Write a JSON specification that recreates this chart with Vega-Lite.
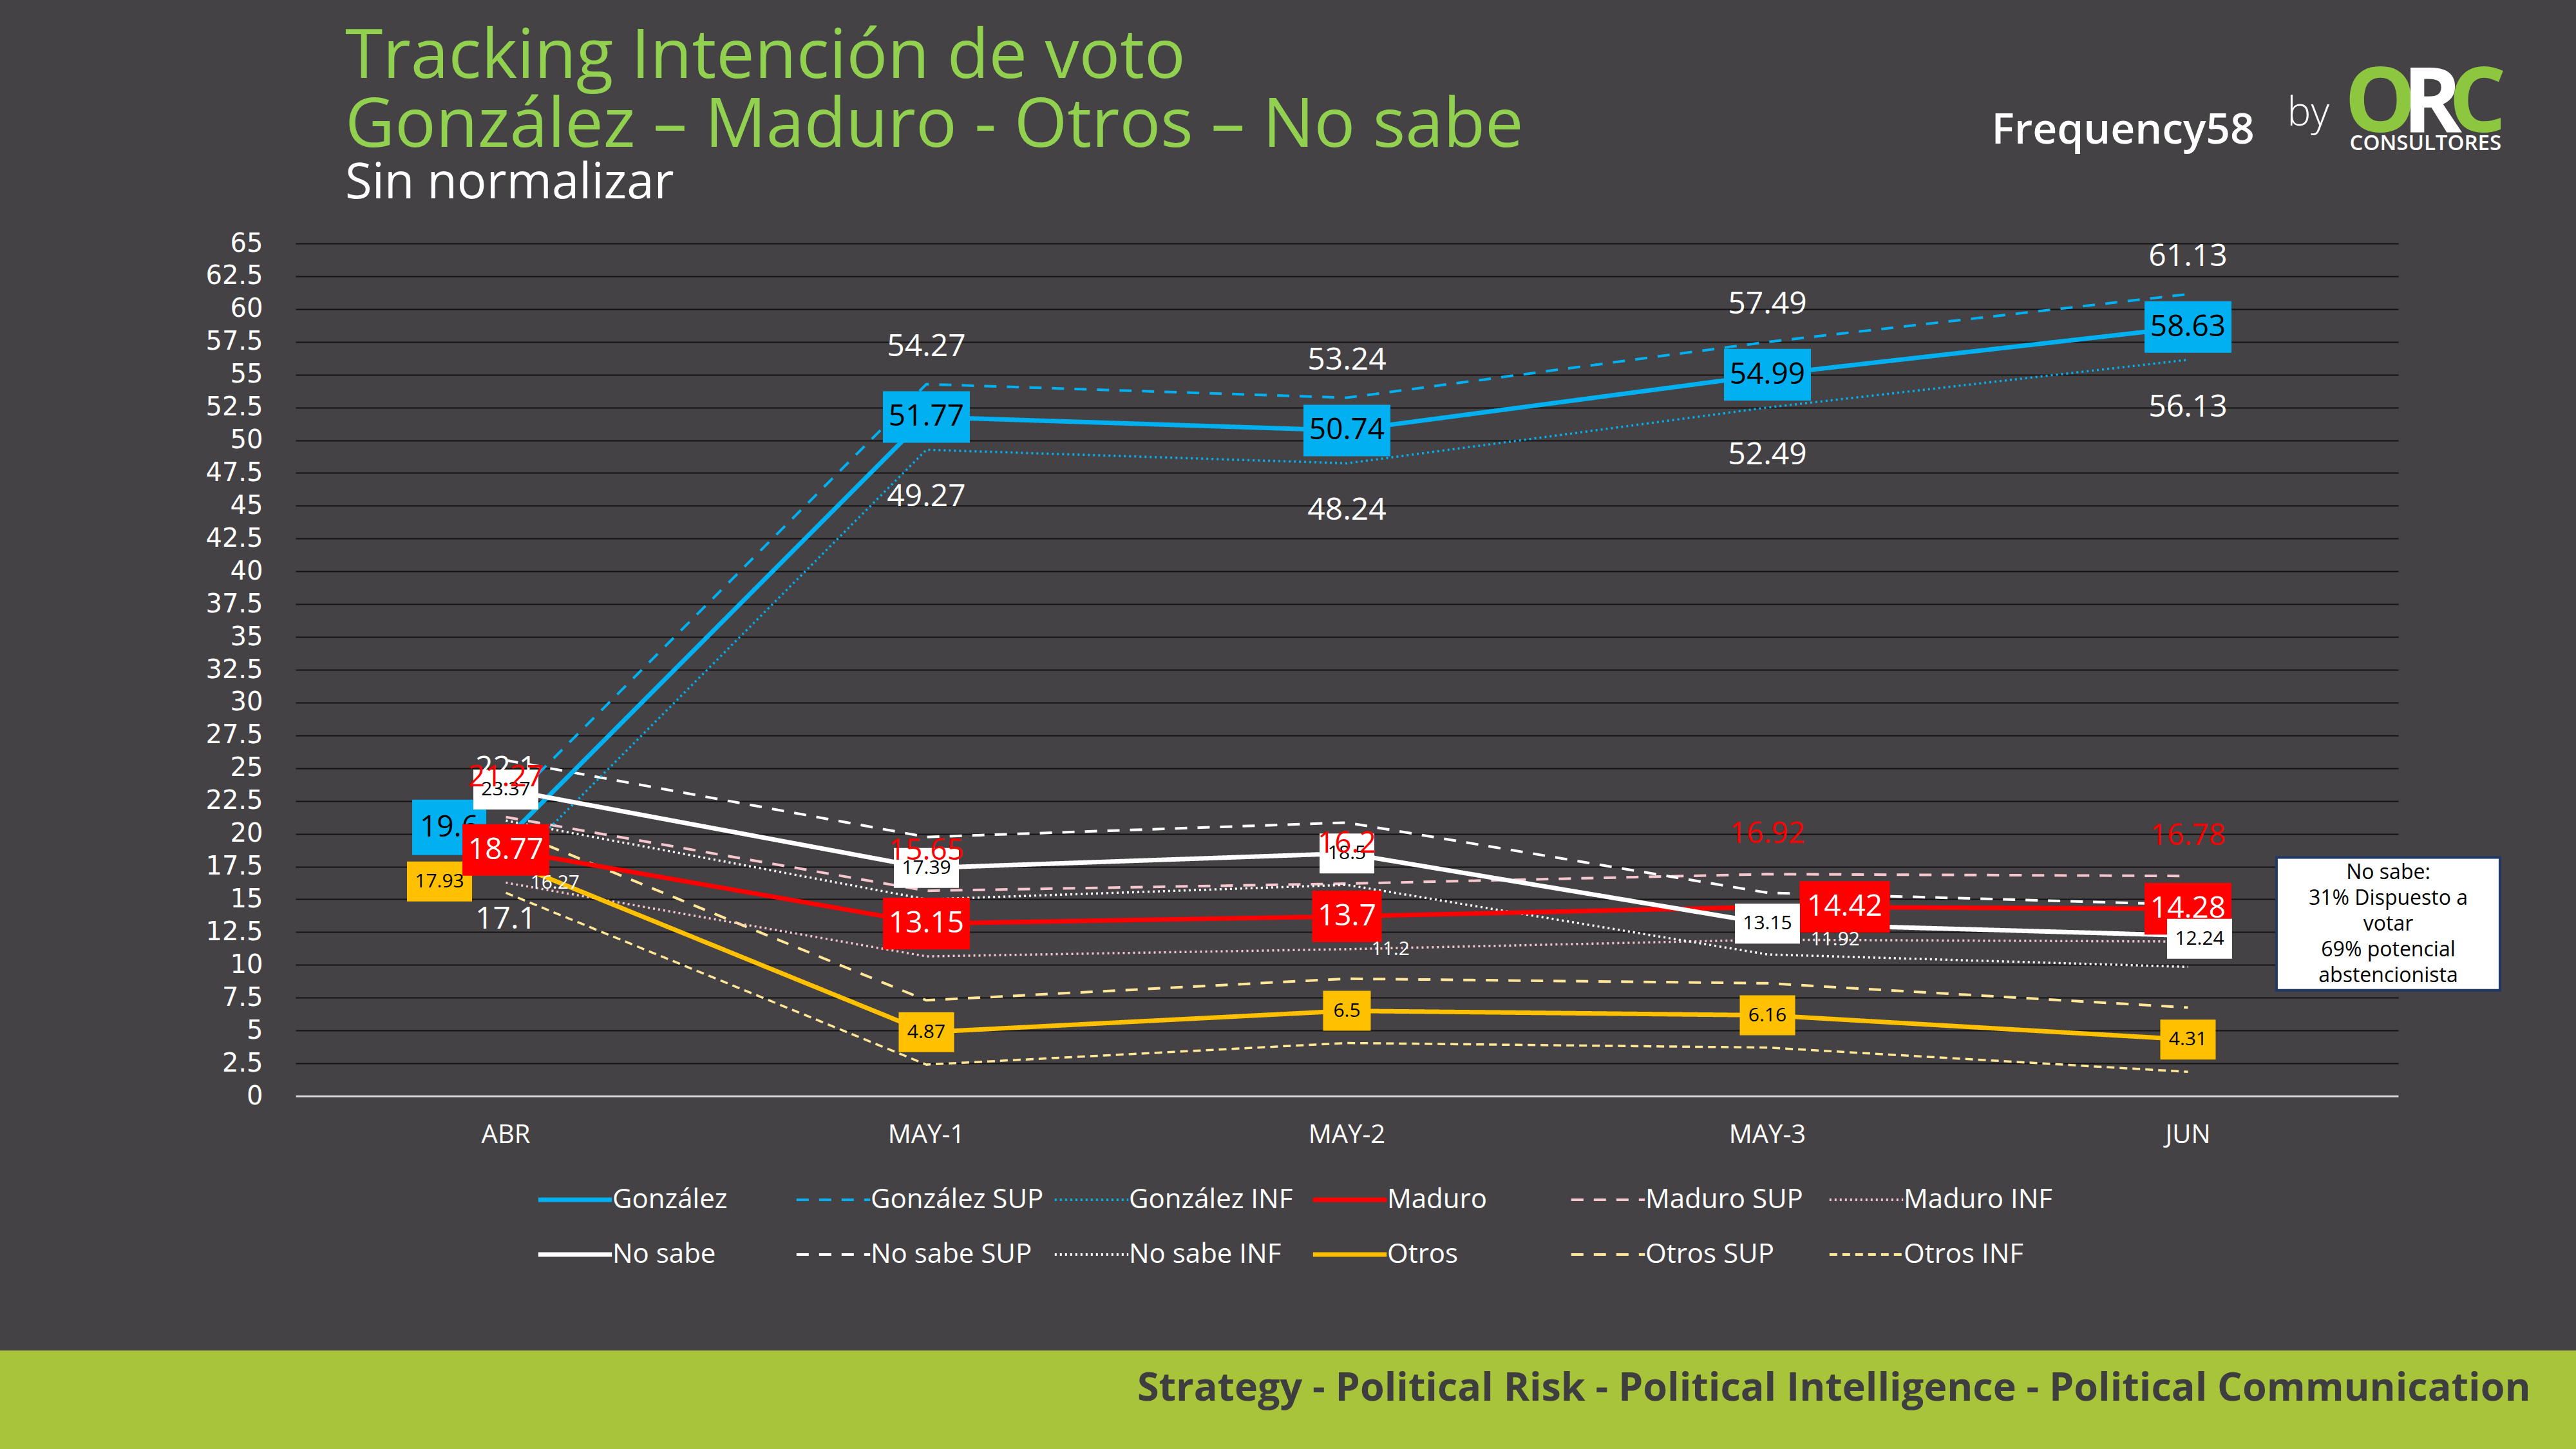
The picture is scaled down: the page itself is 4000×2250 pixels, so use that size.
{
  "$schema": "https://vega.github.io/schema/vega-lite/v6.json",
  "width": 4000,
  "height": 2250,
  "autosize": {"type": "none"},
  "padding": 0,
  "background": "#444244",
  "title": {
    "text": ["Tracking Intención de voto", "González – Maduro - Otros – No sabe"],
    "subtitle": "Sin normalizar",
    "anchor": "start",
    "frame": "group",
    "orient": "top",
    "dx": 536,
    "offset": -324,
    "baseline": "top",
    "font": "Open Sans",
    "fontSize": 106,
    "fontWeight": "normal",
    "lineHeight": 107,
    "color": "#92D050",
    "subtitleFont": "Open Sans",
    "subtitleFontSize": 76,
    "subtitleColor": "#FFFFFF",
    "subtitlePadding": -2
  },
  "config": {
    "view": {
      "stroke": null,
      "fill": {
        "gradient": "linear",
        "x1": 0, "y1": 0, "x2": 0, "y2": 1,
        "stops": [
          {"offset": 0, "color": "#444244"},
          {"offset": 0.932, "color": "#444244"},
          {"offset": 0.932, "color": "#A8C43A"},
          {"offset": 1, "color": "#A8C43A"}
        ]
      }
    }
  },
  "data": {
    "values": [
      {"mes": "ABR", "serie": "González", "valor": 19.6},
      {"mes": "MAY-1", "serie": "González", "valor": 51.77},
      {"mes": "MAY-2", "serie": "González", "valor": 50.74},
      {"mes": "MAY-3", "serie": "González", "valor": 54.99},
      {"mes": "JUN", "serie": "González", "valor": 58.63},
      {"mes": "ABR", "serie": "González SUP", "valor": 22.1},
      {"mes": "MAY-1", "serie": "González SUP", "valor": 54.27},
      {"mes": "MAY-2", "serie": "González SUP", "valor": 53.24},
      {"mes": "MAY-3", "serie": "González SUP", "valor": 57.49},
      {"mes": "JUN", "serie": "González SUP", "valor": 61.13},
      {"mes": "ABR", "serie": "González INF", "valor": 17.1},
      {"mes": "MAY-1", "serie": "González INF", "valor": 49.27},
      {"mes": "MAY-2", "serie": "González INF", "valor": 48.24},
      {"mes": "MAY-3", "serie": "González INF", "valor": 52.49},
      {"mes": "JUN", "serie": "González INF", "valor": 56.13},
      {"mes": "ABR", "serie": "Maduro", "valor": 18.77},
      {"mes": "MAY-1", "serie": "Maduro", "valor": 13.15},
      {"mes": "MAY-2", "serie": "Maduro", "valor": 13.7},
      {"mes": "MAY-3", "serie": "Maduro", "valor": 14.42},
      {"mes": "JUN", "serie": "Maduro", "valor": 14.28},
      {"mes": "ABR", "serie": "Maduro SUP", "valor": 21.27},
      {"mes": "MAY-1", "serie": "Maduro SUP", "valor": 15.65},
      {"mes": "MAY-2", "serie": "Maduro SUP", "valor": 16.2},
      {"mes": "MAY-3", "serie": "Maduro SUP", "valor": 16.92},
      {"mes": "JUN", "serie": "Maduro SUP", "valor": 16.78},
      {"mes": "ABR", "serie": "Maduro INF", "valor": 16.27},
      {"mes": "MAY-1", "serie": "Maduro INF", "valor": 10.65},
      {"mes": "MAY-2", "serie": "Maduro INF", "valor": 11.2},
      {"mes": "MAY-3", "serie": "Maduro INF", "valor": 11.92},
      {"mes": "JUN", "serie": "Maduro INF", "valor": 11.78},
      {"mes": "ABR", "serie": "No sabe", "valor": 23.37},
      {"mes": "MAY-1", "serie": "No sabe", "valor": 17.39},
      {"mes": "MAY-2", "serie": "No sabe", "valor": 18.5},
      {"mes": "MAY-3", "serie": "No sabe", "valor": 13.15},
      {"mes": "JUN", "serie": "No sabe", "valor": 12.24},
      {"mes": "ABR", "serie": "No sabe SUP", "valor": 25.6},
      {"mes": "MAY-1", "serie": "No sabe SUP", "valor": 19.75},
      {"mes": "MAY-2", "serie": "No sabe SUP", "valor": 20.85},
      {"mes": "MAY-3", "serie": "No sabe SUP", "valor": 15.5},
      {"mes": "JUN", "serie": "No sabe SUP", "valor": 14.6},
      {"mes": "ABR", "serie": "No sabe INF", "valor": 21.0},
      {"mes": "MAY-1", "serie": "No sabe INF", "valor": 15.0},
      {"mes": "MAY-2", "serie": "No sabe INF", "valor": 16.1},
      {"mes": "MAY-3", "serie": "No sabe INF", "valor": 10.8},
      {"mes": "JUN", "serie": "No sabe INF", "valor": 9.85},
      {"mes": "ABR", "serie": "Otros", "valor": 17.93},
      {"mes": "MAY-1", "serie": "Otros", "valor": 4.87},
      {"mes": "MAY-2", "serie": "Otros", "valor": 6.5},
      {"mes": "MAY-3", "serie": "Otros", "valor": 6.16},
      {"mes": "JUN", "serie": "Otros", "valor": 4.31},
      {"mes": "ABR", "serie": "Otros SUP", "valor": 20.4},
      {"mes": "MAY-1", "serie": "Otros SUP", "valor": 7.3},
      {"mes": "MAY-2", "serie": "Otros SUP", "valor": 8.95},
      {"mes": "MAY-3", "serie": "Otros SUP", "valor": 8.6},
      {"mes": "JUN", "serie": "Otros SUP", "valor": 6.75},
      {"mes": "ABR", "serie": "Otros INF", "valor": 15.5},
      {"mes": "MAY-1", "serie": "Otros INF", "valor": 2.4},
      {"mes": "MAY-2", "serie": "Otros INF", "valor": 4.05},
      {"mes": "MAY-3", "serie": "Otros INF", "valor": 3.7},
      {"mes": "JUN", "serie": "Otros INF", "valor": 1.85}
    ]
  },
  "encoding": {
    "x": {
      "field": "mes",
      "type": "ordinal",
      "sort": ["ABR", "MAY-1", "MAY-2", "MAY-3", "JUN"],
      "scale": {"type": "band", "domain": ["ABR", "MAY-1", "MAY-2", "MAY-3", "JUN"], "range": [459, 3724], "paddingInner": 0, "paddingOuter": 0},
      "axis": {
        "orient": "bottom",
        "offset": -548,
        "domainColor": "#D9D9D9",
        "domainWidth": 3,
        "ticks": false,
        "grid": false,
        "labelAngle": 0,
        "labelColor": "#FFFFFF",
        "labelFont": "Open Sans",
        "labelFontSize": 40,
        "labelPadding": 40,
        "zindex": 1,
        "title": "Strategy - Political Risk - Political Intelligence - Political Communication",
        "titleX": 3929,
        "titleY": 454,
        "titleAlign": "right",
        "titleBaseline": "middle",
        "titleAngle": 0,
        "titleColor": "#3E3D3F",
        "titleFont": "Open Sans",
        "titleFontSize": 61,
        "titleFontWeight": "bold"
      }
    }
  },
  "resolve": {"axis": {"y": "independent"}},
  "layer": [
    {
      "encoding": {
        "y": {
          "field": "valor",
          "type": "quantitative",
          "scale": {"domain": [0, 65], "range": [1702, 378], "nice": false, "zero": false},
          "axis": {
            "orient": "left",
            "values": [0, 2.5, 5, 7.5, 10, 12.5, 15, 17.5, 20, 22.5, 25, 27.5, 30, 32.5, 35, 37.5, 40, 42.5, 45, 47.5, 50, 52.5, 55, 57.5, 60, 62.5, 65],
            "labelExpr": "'' + datum.value",
            "offset": -408,
            "domain": false,
            "ticks": false,
            "tickSize": 0,
            "labelPadding": 0,
            "labelColor": "#FFFFFF",
            "labelFont": "DejaVu Sans",
            "labelFontSize": 40,
            "labelFlush": false,
            "labelOverlap": false,
            "grid": true,
            "gridColor": "#141414",
            "gridWidth": 2,
            "title": "Frequency58",
            "titleAngle": 0,
            "titleX": 2684,
            "titleY": 222,
            "titleAlign": "left",
            "titleBaseline": "alphabetic",
            "titleColor": "#FFFFFF",
            "titleFont": "Open Sans",
            "titleFontSize": 66,
            "titleFontWeight": 600
          }
        }
      },
      "layer": [
        {
          "transform": [{"filter": {"field": "serie", "oneOf": ["González SUP", "Maduro SUP", "No sabe SUP", "Otros SUP"]}}],
          "mark": {"type": "line", "strokeWidth": 4},
          "encoding": {
            "color": {
              "field": "serie",
              "type": "nominal",
              "scale": {
                "domain": ["González", "González SUP", "González INF", "Maduro", "Maduro SUP", "Maduro INF", "No sabe", "No sabe SUP", "No sabe INF", "Otros", "Otros SUP", "Otros INF"],
                "range": ["#00B0F0", "#00B0F0", "#00B0F0", "#FF0000", "#F6C6CE", "#F6C6CE", "#FFFFFF", "#FFFFFF", "#FFFFFF", "#FFC000", "#FFE699", "#FFE699"]
              },
              "legend": {
                "orient": "none",
                "legendX": 872,
                "legendY": 1842,
                "direction": "horizontal",
                "title": null,
                "columns": 6,
                "gridAlign": "all",
                "symbolType": "stroke",
                "symbolSize": 13080,
                "symbolStrokeWidth": 5,
                "labelColor": "#FFFFFF",
                "labelFont": "Open Sans",
                "labelFontSize": 42,
                "labelOffset": 37,
                "labelLimit": 500,
                "columnPadding": 2,
                "rowPadding": 43,
                "padding": 0,
                "encode": {"symbols": {"update": {"strokeWidth": {"signal": "indexof(['González','Maduro','No sabe','Otros'], datum.value) >= 0 ? 7 : 4"}}}}
              }
            },
            "strokeDash": {
              "field": "serie",
              "type": "nominal",
              "scale": {
                "domain": ["González", "González SUP", "González INF", "Maduro", "Maduro SUP", "Maduro INF", "No sabe", "No sabe SUP", "No sabe INF", "Otros", "Otros SUP", "Otros INF"],
                "range": [[1, 0], [19, 16], [3, 5], [1, 0], [19, 16], [3, 5], [1, 0], [19, 16], [3, 5], [1, 0], [19, 16], [12, 8]]
              },
              "legend": {
                "orient": "none",
                "legendX": 872,
                "legendY": 1842,
                "direction": "horizontal",
                "title": null,
                "columns": 6,
                "gridAlign": "all",
                "symbolType": "stroke",
                "symbolSize": 13080,
                "symbolStrokeWidth": 5,
                "labelColor": "#FFFFFF",
                "labelFont": "Open Sans",
                "labelFontSize": 42,
                "labelOffset": 37,
                "labelLimit": 500,
                "columnPadding": 2,
                "rowPadding": 43,
                "padding": 0,
                "encode": {"symbols": {"update": {"strokeWidth": {"signal": "indexof(['González','Maduro','No sabe','Otros'], datum.value) >= 0 ? 7 : 4"}}}}
              }
            }
          }
        },
        {
          "transform": [{"filter": {"field": "serie", "oneOf": ["González INF", "Maduro INF", "No sabe INF", "Otros INF"]}}],
          "mark": {"type": "line", "strokeWidth": 3.5},
          "encoding": {
            "color": {"field": "serie", "type": "nominal", "legend": null},
            "strokeDash": {"field": "serie", "type": "nominal", "legend": null}
          }
        },
        {
          "transform": [{"filter": {"field": "serie", "oneOf": ["González", "Maduro", "No sabe", "Otros"]}}],
          "mark": {"type": "line", "strokeWidth": 7},
          "encoding": {
            "color": {"field": "serie", "type": "nominal", "legend": null},
            "strokeDash": {"field": "serie", "type": "nominal", "legend": null}
          }
        },
        {
          "transform": [{"filter": "datum.serie == 'González' && datum.mes != 'ABR'"}],
          "layer": [
            {"mark": {"type": "point", "shape": "M-1,-0.593H1V0.593H-1Z", "size": 18225, "filled": true, "fill": "#00B0F0", "strokeWidth": 0, "opacity": 1}},
            {"mark": {"type": "text", "font": "Open Sans", "fontSize": 46, "color": "#000000", "baseline": "middle", "align": "center"}, "encoding": {"text": {"field": "valor", "type": "nominal"}}}
          ]
        },
        {
          "transform": [{"filter": "datum.serie == 'González' && datum.mes == 'ABR'"}],
          "layer": [
            {"mark": {"type": "point", "shape": "M-2.53,-1.061H-0.53V0.435H-2.53Z", "size": 13225, "filled": true, "fill": "#00B0F0", "strokeWidth": 0, "opacity": 1}},
            {"mark": {"type": "text", "font": "Open Sans", "fontSize": 46, "color": "#000000", "baseline": "middle", "align": "center", "dx": -88, "dy": -18}, "encoding": {"text": {"field": "valor", "type": "nominal"}}}
          ]
        },
        {
          "transform": [{"filter": "datum.serie == 'Otros' && datum.mes == 'ABR'"}],
          "layer": [
            {"mark": {"type": "point", "shape": "M-3.04,0.02H-1.04V1.248H-3.04Z", "size": 10201, "filled": true, "fill": "#FFC000", "strokeWidth": 0, "opacity": 1}},
            {"mark": {"type": "text", "font": "Open Sans", "fontSize": 30, "color": "#000000", "baseline": "middle", "align": "center", "dx": -103, "dy": 32}, "encoding": {"text": {"field": "valor", "type": "nominal"}}}
          ]
        },
        {
          "transform": [{"filter": "datum.serie == 'Otros' && (datum.mes == 'MAY-1' || datum.mes == 'MAY-3' || datum.mes == 'JUN')"}],
          "layer": [
            {"mark": {"type": "point", "shape": "M-1,-0.721H1V0.721H-1Z", "size": 7396, "filled": true, "fill": "#FFC000", "strokeWidth": 0, "opacity": 1}},
            {"mark": {"type": "text", "font": "Open Sans", "fontSize": 30, "color": "#000000", "baseline": "middle", "align": "center"}, "encoding": {"text": {"field": "valor", "type": "nominal"}}}
          ]
        },
        {
          "transform": [{"filter": "datum.serie == 'Otros' && datum.mes == 'MAY-2'"}],
          "layer": [
            {"mark": {"type": "point", "shape": "M-1,-0.838H1V0.838H-1Z", "size": 5476, "filled": true, "fill": "#FFC000", "strokeWidth": 0, "opacity": 1}},
            {"mark": {"type": "text", "font": "Open Sans", "fontSize": 30, "color": "#000000", "baseline": "middle", "align": "center"}, "encoding": {"text": {"field": "valor", "type": "nominal"}}}
          ]
        },
        {
          "transform": [{"filter": "datum.serie == 'Maduro' && (datum.mes == 'ABR' || datum.mes == 'MAY-1' || datum.mes == 'JUN')"}],
          "layer": [
            {"mark": {"type": "point", "shape": "M-1,-0.593H1V0.593H-1Z", "size": 18225, "filled": true, "fill": "#FF0000", "strokeWidth": 0, "opacity": 1}},
            {"mark": {"type": "text", "font": "Open Sans", "fontSize": 46, "color": "#FFFFFF", "baseline": "middle", "align": "center"}, "encoding": {"text": {"field": "valor", "type": "nominal"}}}
          ]
        },
        {
          "transform": [{"filter": "datum.serie == 'Maduro' && datum.mes == 'MAY-2'"}],
          "layer": [
            {"mark": {"type": "point", "shape": "M-1,-0.741H1V0.741H-1Z", "size": 11664, "filled": true, "fill": "#FF0000", "strokeWidth": 0, "opacity": 1}},
            {"mark": {"type": "text", "font": "Open Sans", "fontSize": 46, "color": "#FFFFFF", "baseline": "middle", "align": "center"}, "encoding": {"text": {"field": "valor", "type": "nominal"}}}
          ]
        },
        {
          "transform": [{"filter": "datum.serie == 'Maduro' && datum.mes == 'MAY-3'"}],
          "layer": [
            {"mark": {"type": "point", "shape": "M0.714,-0.571H2.714V0.571H0.714Z", "size": 19600, "filled": true, "fill": "#FF0000", "strokeWidth": 0, "opacity": 1}},
            {"mark": {"type": "text", "font": "Open Sans", "fontSize": 46, "color": "#FFFFFF", "baseline": "middle", "align": "center", "dx": 120}, "encoding": {"text": {"field": "valor", "type": "nominal"}}}
          ]
        },
        {
          "transform": [{"filter": "datum.serie == 'No sabe' && (datum.mes == 'ABR' || datum.mes == 'MAY-1' || datum.mes == 'MAY-3')"}],
          "layer": [
            {"mark": {"type": "point", "shape": "M-1,-0.614H1V0.614H-1Z", "size": 10201, "filled": true, "fill": "#FFFFFF", "strokeWidth": 0, "opacity": 1}},
            {"mark": {"type": "text", "font": "Open Sans", "fontSize": 30, "color": "#000000", "baseline": "middle", "align": "center"}, "encoding": {"text": {"field": "valor", "type": "nominal"}}}
          ]
        },
        {
          "transform": [{"filter": "datum.serie == 'No sabe' && datum.mes == 'MAY-2'"}],
          "layer": [
            {"mark": {"type": "point", "shape": "M-1,-0.729H1V0.729H-1Z", "size": 7225, "filled": true, "fill": "#FFFFFF", "strokeWidth": 0, "opacity": 1}},
            {"mark": {"type": "text", "font": "Open Sans", "fontSize": 30, "color": "#000000", "baseline": "middle", "align": "center"}, "encoding": {"text": {"field": "valor", "type": "nominal"}}}
          ]
        },
        {
          "transform": [{"filter": "datum.serie == 'No sabe' && datum.mes == 'JUN'"}],
          "layer": [
            {"mark": {"type": "point", "shape": "M-0.644,-0.515H1.356V0.713H-0.644Z", "size": 10201, "filled": true, "fill": "#FFFFFF", "strokeWidth": 0, "opacity": 1}},
            {"mark": {"type": "text", "font": "Open Sans", "fontSize": 30, "color": "#000000", "baseline": "middle", "align": "center", "dx": 18, "dy": 5}, "encoding": {"text": {"field": "valor", "type": "nominal"}}}
          ]
        }
      ]
    },
    {
      "transform": [{"filter": "datum.serie == 'González SUP'"}],
      "mark": {"type": "text", "font": "Open Sans", "fontSize": 48, "color": "#FFFFFF", "baseline": "middle", "align": "center", "dy": -58},
      "encoding": {
        "y": {"field": "valor", "type": "quantitative", "axis": {"orient": "left", "offset": 0, "labels": false, "ticks": false, "domain": false, "grid": false, "title": "by", "titleAngle": 0, "titleX": 3551, "titleY": 194, "titleAlign": "left", "titleBaseline": "alphabetic", "titleColor": "#FFFFFF", "titleFont": "Open Sans", "titleFontSize": 62, "titleFontWeight": 300}},
        "text": {"field": "valor", "type": "nominal"}
      }
    },
    {
      "transform": [{"filter": "datum.serie == 'González INF'"}],
      "mark": {"type": "text", "font": "Open Sans", "fontSize": 48, "color": "#FFFFFF", "baseline": "middle", "align": "center", "dy": 74},
      "encoding": {
        "y": {"field": "valor", "type": "quantitative", "axis": {"orient": "left", "offset": 0, "labels": false, "ticks": false, "domain": false, "grid": false, "title": "O", "titleAngle": 0, "titleX": 3640, "titleY": 204, "titleAlign": "left", "titleBaseline": "alphabetic", "titleColor": "#8DC63F", "titleFont": "Open Sans", "titleFontSize": 140, "titleFontWeight": "bold"}},
        "text": {"field": "valor", "type": "nominal"}
      }
    },
    {
      "transform": [{"filter": "datum.serie == 'Maduro SUP'"}],
      "mark": {"type": "text", "font": "Open Sans", "fontSize": 46, "color": "#FF0000", "baseline": "middle", "align": "center", "dy": -62},
      "encoding": {
        "y": {"field": "valor", "type": "quantitative", "axis": {"orient": "left", "offset": 0, "labels": false, "ticks": false, "domain": false, "grid": false, "title": "R", "titleAngle": 0, "titleX": 3730, "titleY": 204, "titleAlign": "left", "titleBaseline": "alphabetic", "titleColor": "#FFFFFF", "titleFont": "Open Sans", "titleFontSize": 140, "titleFontWeight": "bold"}},
        "text": {"field": "valor", "type": "nominal"}
      }
    },
    {
      "encoding": {
        "y": {"field": "valor", "type": "quantitative", "axis": {"orient": "left", "offset": 0, "labels": false, "ticks": false, "domain": false, "grid": false, "title": "C", "titleAngle": 0, "titleX": 3802, "titleY": 204, "titleAlign": "left", "titleBaseline": "alphabetic", "titleColor": "#8DC63F", "titleFont": "Open Sans", "titleFontSize": 140, "titleFontWeight": "bold"}},
        "text": {"field": "valor", "type": "nominal"}
      },
      "layer": [
        {
          "transform": [{"filter": "datum.serie == 'Maduro INF' && (datum.mes == 'ABR' || datum.mes == 'MAY-2')"}],
          "mark": {"type": "text", "font": "Open Sans", "fontSize": 30, "color": "#FFFFFF", "baseline": "middle", "align": "left", "dx": 38}
        },
        {
          "transform": [{"filter": "datum.serie == 'Maduro INF' && datum.mes == 'MAY-3'"}],
          "mark": {"type": "text", "font": "Open Sans", "fontSize": 30, "color": "#FFFFFF", "baseline": "middle", "align": "left", "dx": 67}
        }
      ]
    },
    {
      "transform": [{"filter": "datum.serie == 'No sabe' && datum.mes == 'JUN'"}],
      "encoding": {
        "y": {"field": "valor", "type": "quantitative", "axis": {"orient": "left", "offset": 0, "labels": false, "ticks": false, "domain": false, "grid": false, "title": "CONSULTORES", "titleAngle": 0, "titleX": 3648, "titleY": 232, "titleAlign": "left", "titleBaseline": "alphabetic", "titleColor": "#FFFFFF", "titleFont": "Open Sans", "titleFontSize": 33, "titleFontWeight": 600}}
      },
      "layer": [
        {"mark": {"type": "point", "shape": "M0.792,-0.698H2.792V0.49H0.792Z", "size": 120409, "filled": true, "fill": "#FFFFFF", "stroke": "#1F3864", "strokeWidth": 4, "opacity": 1}},
        {"mark": {"type": "text", "text": ["No sabe:", "31% Dispuesto a", "votar", "69% potencial", "abstencionista"], "font": "Open Sans", "fontSize": 32, "lineHeight": 40, "color": "#000000", "baseline": "middle", "align": "center", "dx": 311, "dy": -98}}
      ]
    }
  ]
}
